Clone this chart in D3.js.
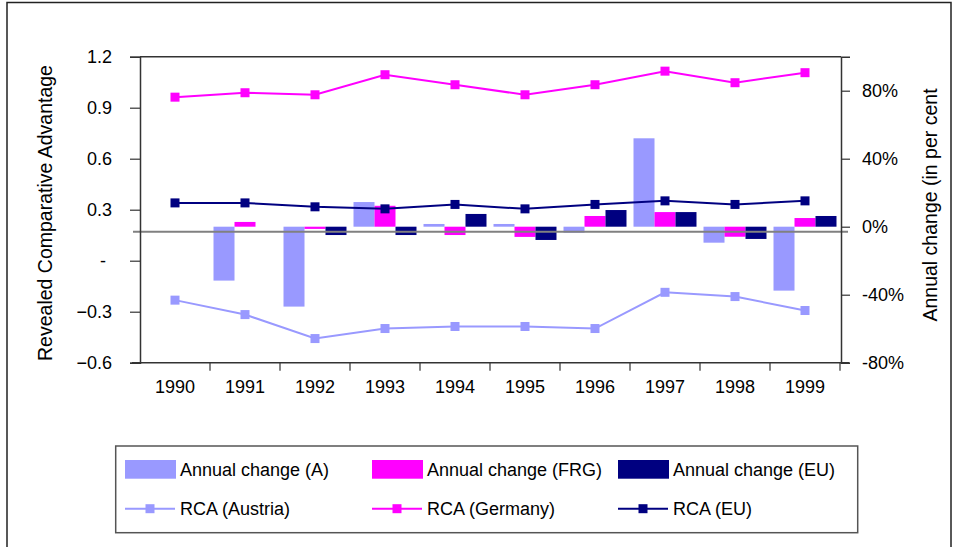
<!DOCTYPE html>
<html>
<head>
<meta charset="utf-8">
<script src="https://cdn.jsdelivr.net/npm/d3@7"></script>
<style>
  html, body { margin: 0; padding: 0; background: #fff; }
  svg { display: block; }
  text { font-family: "Liberation Sans", Arial, sans-serif; fill: #000; }
</style>
</head>
<body>
<svg id="chart" width="957" height="547"></svg>
<script>
// ---- data ----
const years = ["1990","1991","1992","1993","1994","1995","1996","1997","1998","1999"];
const rcaAustria = [-0.232,-0.317,-0.458,-0.399,-0.387,-0.387,-0.399,-0.186,-0.211,-0.293];
const rcaGermany = [0.962,0.988,0.976,1.094,1.035,0.976,1.035,1.115,1.047,1.106];
const rcaEU      = [0.340,0.340,0.317,0.305,0.331,0.305,0.331,0.352,0.331,0.352];
const chgA   = [null,-31.7,-47.0,14.5,1.6,1.6,-3.5,52.0,-9.4,-37.6];
const chgFRG = [null,2.8,-1.3,12.3,-4.9,-6.0,6.3,8.6,-5.9,5.1];
const chgEU  = [null,0,-4.9,-4.9,7.5,-7.8,9.8,8.6,-7.2,6.3];
const leftTicks = [-0.6,-0.3,0,0.3,0.6,0.9,1.2];
const rightTicks = [-80,-40,0,40,80];
const barSeries = ["Annual change (A)","Annual change (FRG)","Annual change (EU)"];
const lineSeries = ["RCA (Austria)","RCA (Germany)","RCA (EU)"];
const colors = ["#9999FF","#FF00FF","#000080"];
const zeroRefLine = -3; // grey horizontal reference line (right-axis units)

// ---- layout ----
const svg = d3.select("#chart");
const L = 140, R = 841, T = 56.7, B = 362.7;

const x0 = d3.scaleBand().domain(years).range([L, L + 700]).paddingInner(0).paddingOuter(0);
const x1 = d3.scaleBand().domain(barSeries).range([0, x0.bandwidth()]).paddingInner(0).paddingOuter(0.167);
const yL = d3.scaleLinear().domain([-0.6, 1.2]).range([B, T]);
const yR = d3.scaleLinear().domain([-80, 100]).range([B, T]);

// outer frame
svg.append("rect").attr("x", 7).attr("y", 2.5).attr("width", 944).attr("height", 600)
  .attr("fill", "none").attr("stroke", "#222").attr("stroke-width", 1.5);

// bars
const barData = [chgA, chgFRG, chgEU];
barData.forEach((vals, si) => {
  svg.append("g").selectAll("rect")
    .data(years.map((y, i) => ({ y, v: vals[i] })).filter(d => d.v !== null && d.v !== 0))
    .join("rect")
    .attr("x", d => x0(d.y) + x1(barSeries[si]))
    .attr("width", x1.bandwidth())
    .attr("y", d => Math.min(yR(d.v), yR(0)))
    .attr("height", d => Math.abs(yR(d.v) - yR(0)))
    .attr("fill", colors[si]);
});

// grey reference line
svg.append("line").attr("x1", 133).attr("x2", 848)
  .attr("y1", yR(zeroRefLine)).attr("y2", yR(zeroRefLine))
  .attr("stroke", "#808080").attr("stroke-width", 2);

// plot top border
svg.append("line").attr("x1", L).attr("x2", R).attr("y1", T).attr("y2", T)
  .attr("stroke", "#333").attr("stroke-width", 1.5);

// left axis
const gL = svg.append("g").attr("transform", `translate(${L},0)`)
  .call(d3.axisLeft(yL).tickValues(leftTicks).tickSize(10).tickPadding(18)
    .tickFormat(d => d === 0 ? "-" : d3.format(".1f")(d)));
gL.select(".domain").attr("stroke", "#333").attr("stroke-width", 1.5);
gL.selectAll(".tick line").attr("stroke", "#333").attr("stroke-width", 1.2);
gL.selectAll(".tick text").style("font-size", "18px").attr("fill", "#000")
  .attr("dx", d => d === 0 ? -6 : 0);
// right axis
const gR = svg.append("g").attr("transform", `translate(${R},0)`)
  .call(d3.axisRight(yR).tickValues(rightTicks).tickSize(9).tickPadding(12)
    .tickFormat(d => d + "%"));
gR.select(".domain").attr("stroke", "#333").attr("stroke-width", 1.5);
gR.selectAll(".tick line").attr("stroke", "#333").attr("stroke-width", 1.2);
gR.selectAll(".tick text").style("font-size", "18px").attr("fill", "#000");
// bottom axis
const gB = svg.append("g").attr("transform", `translate(0,${B})`)
  .call(d3.axisBottom(x0).tickSize(0).tickPadding(18));
gB.select(".domain").remove();
gB.selectAll(".tick text").style("font-size", "18px").attr("fill", "#000");
svg.append("line").attr("x1", L - 8).attr("x2", R + 8).attr("y1", B).attr("y2", B)
  .attr("stroke", "#333").attr("stroke-width", 1.5);
svg.append("g").selectAll("line").data(years.slice(1).concat(["end"]))
  .join("line")
  .attr("x1", d => d === "end" ? L + 700 : x0(d)).attr("x2", d => d === "end" ? L + 700 : x0(d))
  .attr("y1", B).attr("y2", B + 8).attr("stroke", "#333").attr("stroke-width", 1.2);

// titles
svg.append("text").attr("transform", `translate(52,213) rotate(-90)`)
  .attr("text-anchor", "middle").style("font-size", "19.5px").text("Revealed Comparative Advantage");
svg.append("text").attr("transform", `translate(937,205) rotate(-90)`)
  .attr("text-anchor", "middle").style("font-size", "19.5px").text("Annual change (in per cent");

// lines
const lineData = [rcaAustria, rcaGermany, rcaEU];
const cx = d => x0(d) + x0.bandwidth() / 2;
const lineGen = d3.line().x(d => cx(d.y)).y(d => yL(d.v));
const ms = 9;
lineData.forEach((vals, si) => {
  const pts = years.map((y, i) => ({ y, v: vals[i] }));
  svg.append("path").datum(pts).attr("d", lineGen)
    .attr("fill", "none").attr("stroke", colors[si]).attr("stroke-width", 2);
  svg.append("g").selectAll("rect").data(pts).join("rect")
    .attr("x", d => cx(d.y) - ms / 2).attr("y", d => yL(d.v) - ms / 2)
    .attr("width", ms).attr("height", ms).attr("fill", colors[si]);
});

// legend
svg.append("rect").attr("x", 115.7).attr("y", 446).attr("width", 742).attr("height", 86.7)
  .attr("fill", "#fff").attr("stroke", "#555").attr("stroke-width", 1.5);
const legX = [125, 372, 618];
barSeries.forEach((s, i) => {
  svg.append("rect").attr("x", legX[i]).attr("y", 460).attr("width", 51).attr("height", 18.7)
    .attr("fill", colors[i]);
  svg.append("text").attr("x", legX[i] + 55).attr("y", 475.5).style("font-size", "18px").text(s);
});
lineSeries.forEach((s, i) => {
  svg.append("line").attr("x1", legX[i]).attr("x2", legX[i] + 50).attr("y1", 508.7).attr("y2", 508.7)
    .attr("stroke", colors[i]).attr("stroke-width", 2);
  svg.append("rect").attr("x", legX[i] + 25 - ms / 2).attr("y", 508.7 - ms / 2)
    .attr("width", ms).attr("height", ms).attr("fill", colors[i]);
  svg.append("text").attr("x", legX[i] + 55).attr("y", 515).style("font-size", "18px").text(s);
});
</script>
</body>
</html>
